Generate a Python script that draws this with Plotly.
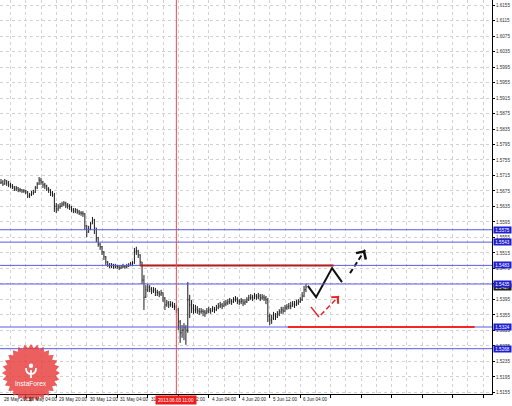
import math
import plotly.graph_objects as go

# ---------------- data (H1 bars) ----------------
closes = [1.5698, 1.5693, 1.5701, 1.5696, 1.5691, 1.5688, 1.5685, 1.5680, 1.5683, 1.5678,
          1.5678, 1.5675, 1.5675, 1.5672, 1.5662, 1.5665, 1.5670, 1.5672, 1.5683, 1.5693,
          1.5703, 1.5698, 1.5691, 1.5688, 1.5680, 1.5678, 1.5670, 1.5665, 1.5636, 1.5629,
          1.5634, 1.5636, 1.5641, 1.5644, 1.5639, 1.5636, 1.5634, 1.5626, 1.5623, 1.5626,
          1.5621, 1.5618, 1.5618, 1.5616, 1.5585, 1.5569, 1.5577, 1.5590, 1.5600, 1.5580,
          1.5554, 1.5538, 1.5531, 1.5518, 1.5505, 1.5492, 1.5484, 1.5481, 1.5484, 1.5479,
          1.5481, 1.5479, 1.5476, 1.5479, 1.5481, 1.5479, 1.5481, 1.5484, 1.5487, 1.5489,
          1.5518, 1.5520, 1.5510, 1.5492, 1.5445, 1.5401, 1.5420, 1.5427, 1.5422, 1.5417,
          1.5420, 1.5414, 1.5412, 1.5409, 1.5412, 1.5399, 1.5381, 1.5386, 1.5381, 1.5383,
          1.5378, 1.5376, 1.5368, 1.5337, 1.5309, 1.5316, 1.5322, 1.5316, 1.5394, 1.5381,
          1.5373, 1.5368, 1.5370, 1.5365, 1.5363, 1.5365, 1.5363, 1.5360, 1.5365, 1.5368,
          1.5365, 1.5370, 1.5368, 1.5373, 1.5378, 1.5381, 1.5378, 1.5383, 1.5386, 1.5389,
          1.5391, 1.5389, 1.5394, 1.5396, 1.5391, 1.5389, 1.5391, 1.5386, 1.5389, 1.5394,
          1.5399, 1.5401, 1.5399, 1.5404, 1.5401, 1.5404, 1.5399, 1.5401, 1.5399, 1.5394,
          1.5352, 1.5342, 1.5347, 1.5355, 1.5350, 1.5358, 1.5363, 1.5368, 1.5365, 1.5373,
          1.5376, 1.5378, 1.5378, 1.5383, 1.5381, 1.5386, 1.5389, 1.5394, 1.5404, 1.5420,
          1.5427]

opens = [1.5696, 1.5698, 1.5693, 1.5701, 1.5696, 1.5691, 1.5688, 1.5685, 1.5680, 1.5683,
         1.5678, 1.5678, 1.5675, 1.5675, 1.5672, 1.5662, 1.5665, 1.5670, 1.5672, 1.5683,
         1.5693, 1.5703, 1.5698, 1.5691, 1.5688, 1.5680, 1.5678, 1.5670, 1.5665, 1.5636,
         1.5629, 1.5634, 1.5636, 1.5641, 1.5644, 1.5639, 1.5636, 1.5634, 1.5626, 1.5623,
         1.5626, 1.5621, 1.5618, 1.5618, 1.5616, 1.5585, 1.5569, 1.5577, 1.5590, 1.5600,
         1.5580, 1.5554, 1.5538, 1.5531, 1.5518, 1.5505, 1.5492, 1.5484, 1.5481, 1.5484,
         1.5479, 1.5481, 1.5479, 1.5476, 1.5479, 1.5481, 1.5479, 1.5481, 1.5484, 1.5487,
         1.5489, 1.5518, 1.5520, 1.5510, 1.5492, 1.5445, 1.5401, 1.5420, 1.5427, 1.5422,
         1.5417, 1.5420, 1.5414, 1.5412, 1.5409, 1.5412, 1.5399, 1.5381, 1.5386, 1.5381,
         1.5383, 1.5378, 1.5376, 1.5368, 1.5337, 1.5309, 1.5316, 1.5322, 1.5316, 1.5394,
         1.5381, 1.5373, 1.5368, 1.5370, 1.5365, 1.5363, 1.5365, 1.5363, 1.5360, 1.5365,
         1.5368, 1.5365, 1.5370, 1.5368, 1.5373, 1.5378, 1.5381, 1.5378, 1.5383, 1.5386,
         1.5389, 1.5391, 1.5389, 1.5394, 1.5396, 1.5391, 1.5389, 1.5391, 1.5386, 1.5389,
         1.5394, 1.5399, 1.5401, 1.5399, 1.5404, 1.5401, 1.5404, 1.5399, 1.5401, 1.5399,
         1.5394, 1.5352, 1.5342, 1.5347, 1.5355, 1.5350, 1.5358, 1.5363, 1.5368, 1.5365,
         1.5373, 1.5376, 1.5378, 1.5378, 1.5383, 1.5381, 1.5386, 1.5389, 1.5394, 1.5404,
         1.5420]

highs = [1.5706, 1.5703, 1.5706, 1.5703, 1.5701, 1.5696, 1.5693, 1.5688, 1.5688, 1.5685,
         1.5683, 1.5680, 1.5680, 1.5678, 1.5675, 1.5670, 1.5675, 1.5678, 1.5688, 1.5698,
         1.5711, 1.5709, 1.5701, 1.5696, 1.5691, 1.5685, 1.5680, 1.5675, 1.5670, 1.5644,
         1.5641, 1.5644, 1.5647, 1.5649, 1.5647, 1.5644, 1.5641, 1.5636, 1.5631, 1.5631,
         1.5629, 1.5626, 1.5623, 1.5623, 1.5618, 1.5587, 1.5585, 1.5595, 1.5608, 1.5603,
         1.5580, 1.5556, 1.5541, 1.5533, 1.5520, 1.5507, 1.5494, 1.5489, 1.5489, 1.5487,
         1.5487, 1.5484, 1.5484, 1.5484, 1.5487, 1.5484, 1.5487, 1.5489, 1.5492, 1.5494,
         1.5528, 1.5531, 1.5523, 1.5512, 1.5492, 1.5458, 1.5432, 1.5435, 1.5432, 1.5427,
         1.5427, 1.5425, 1.5420, 1.5417, 1.5420, 1.5414, 1.5401, 1.5394, 1.5391, 1.5391,
         1.5389, 1.5386, 1.5381, 1.5373, 1.5342, 1.5329, 1.5334, 1.5329, 1.5440, 1.5407,
         1.5394, 1.5383, 1.5381, 1.5378, 1.5373, 1.5373, 1.5370, 1.5368, 1.5373, 1.5376,
         1.5373, 1.5378, 1.5376, 1.5381, 1.5386, 1.5389, 1.5386, 1.5391, 1.5394, 1.5396,
         1.5399, 1.5396, 1.5401, 1.5404, 1.5401, 1.5396, 1.5399, 1.5396, 1.5396, 1.5401,
         1.5407, 1.5409, 1.5407, 1.5412, 1.5409, 1.5412, 1.5409, 1.5409, 1.5407, 1.5404,
         1.5399, 1.5358, 1.5355, 1.5363, 1.5360, 1.5365, 1.5370, 1.5376, 1.5376, 1.5381,
         1.5383, 1.5386, 1.5389, 1.5391, 1.5391, 1.5394, 1.5396, 1.5401, 1.5414, 1.5430,
         1.5435]

lows = [1.5693, 1.5688, 1.5691, 1.5688, 1.5685, 1.5683, 1.5680, 1.5675, 1.5675, 1.5672,
        1.5672, 1.5670, 1.5670, 1.5667, 1.5657, 1.5657, 1.5662, 1.5665, 1.5670, 1.5680,
        1.5691, 1.5691, 1.5683, 1.5680, 1.5675, 1.5670, 1.5662, 1.5660, 1.5621, 1.5618,
        1.5623, 1.5629, 1.5634, 1.5636, 1.5631, 1.5629, 1.5626, 1.5621, 1.5618, 1.5618,
        1.5616, 1.5613, 1.5611, 1.5608, 1.5574, 1.5556, 1.5567, 1.5574, 1.5590, 1.5564,
        1.5543, 1.5531, 1.5523, 1.5510, 1.5497, 1.5484, 1.5479, 1.5476, 1.5476, 1.5474,
        1.5476, 1.5474, 1.5471, 1.5474, 1.5476, 1.5474, 1.5476, 1.5479, 1.5481, 1.5481,
        1.5487, 1.5510, 1.5502, 1.5481, 1.5435, 1.5368, 1.5399, 1.5414, 1.5414, 1.5409,
        1.5412, 1.5404, 1.5404, 1.5401, 1.5404, 1.5389, 1.5368, 1.5376, 1.5373, 1.5376,
        1.5373, 1.5368, 1.5360, 1.5316, 1.5283, 1.5296, 1.5290, 1.5278, 1.5309, 1.5347,
        1.5360, 1.5358, 1.5360, 1.5358, 1.5355, 1.5358, 1.5352, 1.5350, 1.5358, 1.5360,
        1.5358, 1.5363, 1.5360, 1.5365, 1.5370, 1.5373, 1.5370, 1.5376, 1.5378, 1.5381,
        1.5383, 1.5381, 1.5386, 1.5389, 1.5383, 1.5381, 1.5383, 1.5378, 1.5381, 1.5386,
        1.5391, 1.5394, 1.5391, 1.5396, 1.5394, 1.5396, 1.5391, 1.5394, 1.5391, 1.5383,
        1.5337, 1.5329, 1.5332, 1.5342, 1.5342, 1.5347, 1.5352, 1.5358, 1.5358, 1.5363,
        1.5368, 1.5370, 1.5370, 1.5376, 1.5373, 1.5378, 1.5381, 1.5386, 1.5391, 1.5401,
        1.5414]

bars = list(range(len(closes)))

# price-axis tick labels
y_ticks = [1.6155, 1.6115, 1.6075, 1.6035, 1.5995, 1.5955, 1.5915, 1.5875, 1.5835,
           1.5795, 1.5755, 1.5715, 1.5675, 1.5635, 1.5595, 1.5555, 1.5515, 1.5475,
           1.5435, 1.5395, 1.5355, 1.5315, 1.5275, 1.5235, 1.5195, 1.5155]

# time-axis labels (bar index -> text)
time_tick_bars = [0, 13, 29, 45, 61, 77, 93, 109, 125, 141, 157]
time_tick_text = ["28 May 2013", "29 May 04:00", "29 May 20:00", "30 May 12:00",
                  "31 May 04:00", "31 May 20:00", "3 Jun 12:00", "4 Jun 04:00",
                  "4 Jun 20:00", "5 Jun 12:00", "6 Jun 04:00"]
grid_bars = [13, 29, 45, 61, 77, 93, 109, 125, 141, 157, 173, 189, 205, 221, 237, 253]
minor_grid_bars = [5, 21, 37, 53, 69, 85, 101, 117, 133, 149, 165, 181, 197, 213, 229, 245]

# horizontal levels
blue_levels = [1.5575, 1.5543, 1.5483, 1.5435, 1.5324, 1.5268]
red_level_upper = 1.5483
red_upper_span = [73, 174.5]
red_level_lower = 1.5324
red_lower_span = [150.5, 248.5]
bid_price = 1.5427

# vertical line
vline_bar = 92
vline_text = "2013.06.03 11:00"

# forecast arrows
black_path_x = [161.0, 165.3, 173.7, 178.9]
black_path_y = [1.5430, 1.5401, 1.5476, 1.5440]
black_dash_x = [183.1, 191.0]
black_dash_y = [1.5463, 1.5523]
red_path_x = [162.6, 166.8]
red_path_y = [1.5376, 1.5350]
red_dash_x = [167.8, 177.3]
red_dash_y = [1.5355, 1.5404]

# ---------------- figure ----------------
FONT = "Liberation Sans, Arial, sans-serif"
W, H = 512, 406
ML, MR, MT, MB = 0, 20, 0, 12
PW, PH = W - ML - MR, H - MT - MB
X_RANGE = [-0.52, 257.6]
Y_RANGE = [1.51511, 1.61679]
GRID = "#d2d2d2"

fig = go.Figure()

fig.add_trace(go.Ohlc(
    x=bars, open=opens, high=highs, low=lows, close=closes,
    increasing=dict(line=dict(color="#1a1a1a", width=1)),
    decreasing=dict(line=dict(color="#1a1a1a", width=1)),
    tickwidth=0.3, hoverinfo="skip", showlegend=False))

# horizontal blue levels
for lv in blue_levels:
    fig.add_shape(type="line", xref="paper", x0=0, x1=1, yref="y", y0=lv, y1=lv,
                  line=dict(color="#5a5ae6", width=1), layer="above")

# red segments
fig.add_shape(type="line", xref="x", x0=red_upper_span[0], x1=red_upper_span[1],
              yref="y", y0=red_level_upper, y1=red_level_upper,
              line=dict(color="#b81c1c", width=2), layer="above")
fig.add_shape(type="line", xref="x", x0=red_lower_span[0], x1=red_lower_span[1],
              yref="y", y0=red_level_lower, y1=red_level_lower,
              line=dict(color="#f02828", width=2), layer="above")

# vertical red line
fig.add_shape(type="line", xref="x", x0=vline_bar, x1=vline_bar, yref="paper", y0=0, y1=1,
              line=dict(color="#f04848", width=1), layer="above")

# arrows
fig.add_trace(go.Scatter(x=black_path_x, y=black_path_y, mode="lines",
                         line=dict(color="#111111", width=2), hoverinfo="skip", showlegend=False))
fig.add_trace(go.Scatter(x=black_dash_x, y=black_dash_y, mode="lines",
                         line=dict(color="#111111", width=2, dash="5px,3px"),
                         hoverinfo="skip", showlegend=False))
fig.add_trace(go.Scatter(x=red_path_x, y=red_path_y, mode="lines",
                         line=dict(color="#e82424", width=1.5), hoverinfo="skip", showlegend=False))
fig.add_trace(go.Scatter(x=red_dash_x, y=red_dash_y, mode="lines",
                         line=dict(color="#e82424", width=1.5, dash="5px,3px"),
                         hoverinfo="skip", showlegend=False))


def head(xs, ys, color, width):
    x1, y1 = xs[-1], ys[-1]
    x0, y0 = xs[-2], ys[-2]
    ax = x1 - (x1 - x0) * 0.2
    ay = y1 - (y1 - y0) * 0.2
    fig.add_annotation(x=x1, y=y1, xref="x", yref="y", ax=ax, ay=ay, axref="x", ayref="y",
                       text="", showarrow=True, arrowhead=4, arrowsize=1.4,
                       arrowwidth=width, arrowcolor=color)


head(black_path_x, black_path_y, "#111111", 1.6)
head(black_dash_x, black_dash_y, "#111111", 1.6)
head(red_dash_x, red_dash_y, "#e82424", 1.3)

# x-axis labels (MT4 style, left-aligned after the tick)
for b, t in zip(time_tick_bars, time_tick_text):
    fig.add_annotation(x=b, y=0, xref="x", yref="paper", text=t, showarrow=False,
                       xanchor="left", yanchor="top", xshift=1, yshift=-1,
                       font=dict(family=FONT, size=4.6, color="#222222"))

# vertical-line time box (covers the 3 Jun label as in the terminal)
fig.add_annotation(x=vline_bar, y=0, xref="x", yref="paper", text=vline_text, showarrow=False,
                   xanchor="center", yanchor="top", yshift=-1, bgcolor="#ee1c1c",
                   width=40, height=8, borderpad=0,
                   font=dict(family=FONT, size=4.6, color="#ffffff"))

# price boxes on the right axis
fig.add_annotation(x=1, y=bid_price, xref="paper", yref="y", text=f"{bid_price:.4f}",
                   showarrow=False, xanchor="left", xshift=1, bgcolor="#1e1e1e",
                   width=17, height=6, borderpad=0,
                   font=dict(family=FONT, size=4.6, color="#ffffff"))
for lv in blue_levels:
    fig.add_annotation(x=1, y=lv, xref="paper", yref="y", text=f"{lv:.4f}",
                       showarrow=False, xanchor="left", xshift=1, bgcolor="#2020d0",
                       width=17, height=6, borderpad=0,
                       font=dict(family=FONT, size=4.6, color="#ffffff"))

# InstaForex seal logo (pixel geometry -> paper coordinates)
def px(x):
    return x / PW


def py(y):
    return (PH - y) / PH


cx, cy, r_out, r_in, n = 31, 373, 29, 25, 28
pts = []
for k in range(2 * n):
    a = math.pi * k / n
    r = r_out if k % 2 == 0 else r_in
    pts.append((px(cx + r * math.cos(a)), py(cy + r * math.sin(a))))
path = "M " + " L ".join(f"{a:.5f},{b:.5f}" for a, b in pts) + " Z"
fig.add_shape(type="path", path=path, xref="paper", yref="paper",
              fillcolor="rgba(232,60,60,0.82)", line=dict(width=0), layer="above")
fig.add_shape(type="circle", xref="paper", yref="paper",
              x0=px(cx - 2.2), x1=px(cx + 2.2), y0=py(cy - 9.5), y1=py(cy - 5.1),
              fillcolor="white", line=dict(width=0), layer="above")
emb = (f"M {px(cx-5):.5f},{py(cy-5):.5f} Q {px(cx-5):.5f},{py(cy+1):.5f} {px(cx):.5f},{py(cy+1):.5f} "
       f"Q {px(cx+5):.5f},{py(cy+1):.5f} {px(cx+5):.5f},{py(cy-5):.5f} "
       f"M {px(cx):.5f},{py(cy-3):.5f} L {px(cx):.5f},{py(cy+5):.5f}")
fig.add_shape(type="path", path=emb, xref="paper", yref="paper",
              line=dict(color="white", width=1.8), layer="above")
fig.add_annotation(x=px(cx), y=py(cy + 10), xref="paper", yref="paper", text="InstaForex",
                   showarrow=False, xanchor="center", yanchor="middle",
                   font=dict(family=FONT, size=6.6, color="#ffffff"))

fig.update_layout(
    width=W, height=H,
    margin=dict(l=ML, r=MR, t=MT, b=MB, pad=0),
    paper_bgcolor="white", plot_bgcolor="white",
    showlegend=False,
    xaxis=dict(range=X_RANGE, rangeslider=dict(visible=False), type="linear",
               tickmode="array", tickvals=grid_bars, showticklabels=False,
               ticks="outside", ticklen=3, tickcolor="#000000",
               showgrid=True, gridcolor=GRID, griddash="dot", gridwidth=1,
               minor=dict(tickmode="array", tickvals=minor_grid_bars, showgrid=True,
                          gridcolor=GRID, griddash="dot", gridwidth=1, ticks=""),
               showline=True, linecolor="#000000", linewidth=1, zeroline=False,
               fixedrange=True, automargin=False),
    yaxis=dict(range=Y_RANGE, side="right", tickmode="array", tickvals=y_ticks,
               ticktext=[f"{v:.4f}" for v in y_ticks],
               tickfont=dict(family=FONT, size=4.6, color="#333333"),
               ticks="outside", ticklen=2, tickcolor="#000000",
               showgrid=True, gridcolor=GRID, griddash="dot", gridwidth=1,
               showline=True, linecolor="#000000", linewidth=1, zeroline=False,
               fixedrange=True, automargin=False),
)

fig.write_html("out.html", config={"displayModeBar": False},
               post_script="document.body.style.margin='0';")
